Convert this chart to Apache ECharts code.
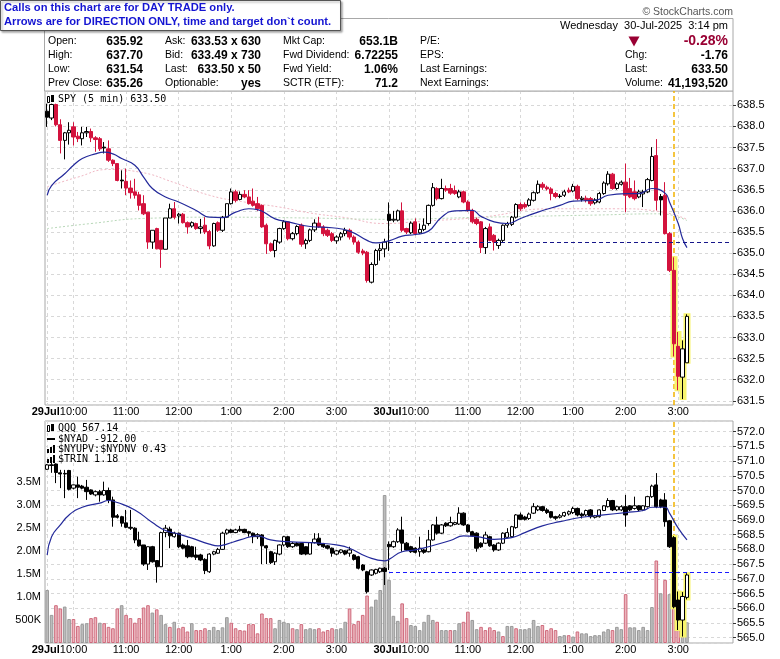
<!DOCTYPE html>
<html>
<head>
<meta charset="utf-8">
<title>SPY 5 min / QQQ</title>
<script src="https://cdn.jsdelivr.net/npm/echarts@6.0.0/dist/echarts.min.js"></script>
<style>
  html, body { margin: 0; padding: 0; background: #fff; }
  #chart { width: 780px; height: 659px; }
</style>
</head>
<body>
<div id="chart"></div>
<script>
// two sessions of 5-minute bars, 9:30 .. 3:55 (78 slots each) + one spare slot
var days = ['29Jul', '30Jul'];
var slotsPerDay = 78;

// SPY bars: [open, high, low, close]
var spyBars = [
  [638.36,638.54,637.99,638.22],[638.20,638.54,638.15,638.52],[638.52,638.54,638.00,638.04],[638.04,638.17,637.36,637.67],
  [637.67,637.87,637.22,637.85],[637.85,638.10,637.57,637.91],[637.99,638.10,637.55,637.75],[637.77,637.87,637.63,637.71],
  [637.71,637.99,637.55,637.85],[637.85,637.99,637.75,637.88],[637.88,637.95,637.63,637.73],[637.73,637.77,637.40,637.69],
  [637.71,637.75,637.42,637.47],[637.51,637.63,637.36,637.49],[637.47,637.67,637.16,637.20],[637.20,637.22,637.06,637.12],
  [637.12,637.12,636.70,636.72],[636.73,636.96,636.53,636.71],[636.70,637.00,636.37,636.54],[636.54,636.72,636.29,636.43],
  [636.45,636.76,636.29,636.37],[636.38,636.45,636.01,636.13],[636.17,636.37,635.90,635.93],[635.97,635.97,635.10,635.26],
  [635.26,635.54,635.10,635.54],[635.58,635.60,635.09,635.10],[635.30,635.30,634.65,635.09],[635.09,635.83,635.09,635.83],
  [635.83,636.17,635.83,636.05],[636.05,636.21,635.80,635.85],[635.88,635.95,635.70,635.92],[635.92,635.95,635.70,635.72],
  [635.72,635.75,635.46,635.62],[635.64,635.75,635.60,635.72],[635.70,635.72,635.55,635.58],[635.58,635.81,635.46,635.62],
  [635.66,635.85,635.45,635.50],[635.51,635.55,635.09,635.17],[635.17,635.72,635.15,635.70],[635.72,635.75,635.50,635.54],
  [635.54,635.88,635.50,635.85],[635.85,636.17,635.83,636.17],[636.17,636.53,636.15,636.45],[636.45,636.50,636.20,636.25],
  [636.27,636.46,636.25,636.39],[636.39,636.49,636.30,636.33],[636.33,636.49,636.15,636.17],[636.23,636.53,636.10,636.13],
  [636.17,636.33,636.00,636.05],[636.13,636.15,635.60,635.62],[635.66,635.70,634.98,635.22],[635.22,635.25,635.03,635.06],
  [635.06,635.32,634.90,635.30],[635.26,635.60,635.22,635.58],[635.58,635.78,635.55,635.74],[635.74,635.76,635.30,635.34],
  [635.34,635.50,635.30,635.46],[635.46,635.66,635.42,635.63],[635.66,635.70,635.15,635.21],[635.22,635.34,635.10,635.30],
  [635.30,635.58,635.26,635.55],[635.55,635.80,635.50,635.71],[635.71,635.86,635.60,635.62],[635.62,635.66,635.40,635.46],
  [635.54,635.58,635.38,635.42],[635.46,635.50,635.26,635.30],[635.29,635.42,635.22,635.38],[635.38,635.50,635.30,635.46],
  [635.46,635.60,635.40,635.54],[635.54,635.58,635.32,635.38],[635.38,635.42,635.20,635.26],[635.26,635.30,634.98,635.02],
  [635.05,635.10,634.95,635.00],[635.02,635.05,634.30,634.35],[634.31,634.78,634.28,634.73],[634.73,635.10,634.70,635.06],
  [635.06,635.22,634.82,635.10],[635.10,635.34,634.90,635.26],
  [635.92,636.20,635.05,635.77],[635.78,636.00,635.73,635.80],[635.78,636.03,635.75,636.00],[636.00,636.20,635.50,635.54],
  [635.58,635.60,635.45,635.50],[635.48,635.75,635.45,635.71],[635.74,635.82,635.42,635.46],[635.48,635.70,635.45,635.56],
  [635.56,635.82,635.52,635.66],[635.70,636.15,635.65,636.13],[636.13,636.66,636.10,636.55],[636.53,636.56,636.25,636.29],
  [636.29,636.76,636.27,636.53],[636.53,636.60,636.45,636.49],[636.53,636.64,636.38,636.42],[636.48,636.60,636.38,636.41],
  [636.33,636.50,636.30,636.45],[636.45,636.48,636.18,636.21],[636.21,636.25,635.98,636.01],[636.01,636.05,635.70,635.74],
  [635.80,635.84,635.66,635.70],[635.74,635.76,635.00,635.13],[635.13,635.62,634.98,635.58],[635.62,635.70,635.28,635.30],
  [635.42,635.45,635.06,635.26],[635.18,635.34,635.10,635.30],[635.30,635.68,635.26,635.66],[635.66,635.74,635.60,635.70],
  [635.68,635.88,635.64,635.85],[635.85,636.18,635.82,636.15],[636.15,636.20,636.00,636.05],[636.15,636.20,636.05,636.09],
  [636.13,636.30,636.10,636.26],[636.25,636.46,636.22,636.43],[636.43,636.72,636.40,636.63],[636.63,636.68,636.50,636.56],
  [636.56,636.60,636.48,636.52],[636.52,636.56,636.25,636.41],[636.41,636.45,636.30,636.34],[636.35,636.40,636.30,636.34],
  [636.37,636.50,636.33,636.45],[636.49,636.55,636.42,636.45],[636.47,636.64,636.44,636.58],[636.58,636.62,636.25,636.29],
  [636.27,636.35,636.22,636.30],[636.30,636.36,636.20,636.25],[636.29,636.33,636.12,636.17],[636.19,636.30,636.15,636.26],
  [636.21,636.45,636.18,636.41],[636.41,636.70,636.38,636.66],[636.64,636.94,636.60,636.87],[636.87,636.90,636.50,636.53],
  [636.53,636.68,636.50,636.64],[636.63,636.72,636.60,636.68],[636.68,637.12,635.97,636.37],[636.53,636.78,636.30,636.33],
  [636.45,636.72,636.25,636.29],[636.33,636.50,636.30,636.45],[636.40,636.50,636.09,636.45],[636.45,636.78,636.42,636.74],
  [636.72,637.51,636.70,637.29],[637.31,637.70,636.01,636.25],[636.34,636.40,635.89,636.26],[636.37,636.68,635.44,635.46],
  [635.46,635.50,634.55,634.59],[634.59,634.90,632.55,632.85],[632.79,633.13,631.75,632.08],[632.06,632.93,631.54,632.73],
  [632.40,633.55,632.40,633.50]
];
// SPY bars drawn filled black (down bar that closed above the prior close)
var spyBlackBars = [0, 13, 17, 78, 117, 140];

// QQQ bars: [open, high, low, close]
var qqqBars = [
  [570.72,570.90,570.70,570.87],[570.87,571.00,570.60,570.85],[570.90,570.92,570.25,570.61],[570.60,570.70,570.08,570.56],
  [570.58,570.70,569.74,570.56],[570.68,570.70,570.00,570.04],[570.08,570.20,570.04,570.19],[570.19,570.47,569.74,570.11],
  [570.15,570.19,570.04,570.08],[570.11,570.36,569.68,569.96],[570.02,570.04,569.85,569.88],[569.85,570.00,569.80,569.96],
  [569.96,570.02,569.62,569.85],[569.85,570.30,569.82,570.00],[570.00,570.10,569.57,569.68],[569.68,569.79,568.77,569.09],
  [569.14,569.20,569.05,569.09],[569.11,569.14,568.77,568.89],[568.90,569.34,568.72,568.75],[568.75,569.34,568.66,568.72],
  [568.72,568.75,568.21,568.32],[568.32,568.60,568.09,568.12],[568.15,568.15,567.44,567.50],[567.50,568.10,567.30,568.09],
  [568.09,568.12,567.55,567.58],[567.62,567.62,566.87,567.41],[567.41,568.60,567.40,568.57],[568.57,568.83,568.41,568.72],
  [568.69,568.77,568.04,568.46],[568.43,568.60,568.40,568.55],[568.55,568.57,568.05,568.09],[568.15,568.20,568.00,568.04],
  [568.12,568.32,567.70,567.75],[568.09,568.12,567.73,567.75],[567.81,568.09,567.64,567.73],[567.81,567.85,567.60,567.64],
  [567.66,567.70,567.16,567.28],[567.24,567.87,567.20,567.84],[567.84,567.95,567.80,567.92],[567.87,568.05,567.85,568.00],
  [568.00,568.60,567.98,568.55],[568.55,568.70,568.50,568.66],[568.66,568.70,568.55,568.57],[568.57,568.70,568.55,568.66],
  [568.68,568.80,568.60,568.63],[568.68,568.70,568.55,568.57],[568.60,568.63,568.43,568.55],[568.55,568.57,568.21,568.43],
  [568.43,568.55,568.35,568.50],[568.49,568.52,567.50,568.12],[568.12,568.15,567.50,568.05],[567.92,567.95,567.50,567.55],
  [567.58,567.90,567.47,567.87],[567.84,568.17,567.80,568.15],[568.15,568.46,568.10,568.43],[568.43,568.46,568.05,568.09],
  [568.09,568.25,568.05,568.20],[568.20,568.25,568.10,568.12],[568.20,568.22,567.81,567.84],[568.09,568.10,567.80,567.84],
  [567.84,568.25,567.82,568.23],[568.23,568.55,568.20,568.35],[568.38,568.55,568.12,568.15],[568.20,568.22,568.05,568.09],
  [568.12,568.15,568.00,568.04],[568.04,568.06,567.75,567.87],[567.84,567.98,567.80,567.95],[567.90,568.00,567.86,567.98],
  [567.95,567.98,567.80,567.84],[567.87,568.09,567.75,567.98],[567.81,567.84,567.62,567.66],[567.75,567.78,567.32,567.36],
  [567.47,567.50,567.26,567.30],[567.24,567.27,566.50,566.56],[567.13,567.32,567.10,567.30],[567.19,567.34,567.15,567.32],
  [567.24,567.38,567.20,567.36],[567.36,567.40,566.79,567.25],
  [568.17,568.27,567.30,568.09],[568.09,568.30,568.05,568.26],[568.26,568.72,568.22,568.66],[568.66,569.11,567.92,568.21],
  [568.21,568.25,567.95,567.98],[568.09,568.12,567.88,567.92],[568.04,568.07,567.86,567.90],[567.92,568.43,567.75,568.04],
  [567.98,568.02,567.85,567.90],[567.92,568.66,567.90,568.32],[568.32,568.86,568.30,568.83],[568.83,569.11,568.50,568.55],
  [568.55,568.86,568.52,568.83],[568.89,568.92,568.76,568.80],[568.80,569.11,568.77,568.91],[568.85,568.94,568.82,568.91],
  [568.86,569.43,568.83,569.23],[569.23,569.26,568.80,568.83],[568.83,568.86,568.57,568.60],[568.60,568.63,568.43,568.46],
  [568.55,568.58,567.92,568.04],[568.21,568.24,568.05,568.09],[568.21,568.60,568.18,568.49],[568.43,568.46,568.09,568.12],
  [568.15,568.18,567.92,567.98],[567.98,568.24,567.95,568.21],[568.21,568.58,568.18,568.55],[568.41,568.72,568.38,568.57],
  [568.43,568.80,568.40,568.77],[568.74,569.20,568.70,569.17],[569.17,569.25,569.00,569.02],[569.10,569.14,568.98,569.02],
  [569.05,569.25,569.00,569.20],[569.23,569.57,569.20,569.45],[569.34,569.50,569.30,569.45],[569.45,569.48,569.28,569.32],
  [569.34,569.40,569.20,569.25],[569.28,569.30,569.05,569.09],[569.11,569.14,569.00,569.06],[569.09,569.20,569.05,569.14],
  [569.14,569.28,569.10,569.25],[569.20,569.32,569.15,569.28],[569.25,569.45,569.20,569.39],[569.39,569.42,569.12,569.17],
  [569.20,569.25,569.05,569.14],[569.17,569.35,569.12,569.32],[569.34,569.37,569.05,569.11],[569.09,569.17,569.05,569.14],
  [569.11,569.36,569.08,569.34],[569.32,569.50,569.30,569.48],[569.45,569.74,569.42,569.66],[569.66,569.68,569.30,569.34],
  [569.34,569.48,569.30,569.45],[569.34,569.50,569.30,569.45],[569.45,569.85,568.77,569.17],[569.48,569.50,569.30,569.34],
  [569.39,569.79,569.35,569.48],[569.48,569.50,569.30,569.34],[569.34,569.50,569.30,569.48],[569.45,569.82,569.42,569.79],
  [569.79,570.20,569.75,570.15],[570.19,570.59,569.40,569.45],[569.68,569.72,569.40,569.45],[569.68,569.91,568.77,568.94],
  [568.97,569.00,568.05,568.09],[568.40,568.45,566.00,566.05],[566.28,566.57,565.26,565.60],[565.60,566.55,565.04,566.40],
  [566.37,567.19,566.30,567.13]
];

// volume (millions) and its colour: 1 = down bar (pink), 0 = up bar (grey)
var volume = [
  1.15,0.61,0.82,0.75,0.79,0.52,0.52,0.37,0.41,0.43,0.54,0.56,0.44,0.43,0.35,0.32,0.75,0.82,0.61,0.54,
  0.44,0.54,0.77,0.82,0.66,0.73,0.61,0.41,0.35,0.46,0.32,0.35,0.25,0.43,0.28,0.28,0.32,0.28,0.35,0.28,
  0.34,0.56,0.44,0.32,0.28,0.27,0.41,
  0.41,0.21,0.64,0.54,0.54,0.32,0.50,0.46,0.43,0.32,0.30,0.41,0.30,0.32,0.30,0.32,0.25,0.28,0.32,0.30,
  0.32,0.46,0.75,0.41,0.48,0.61,1.03,0.79,0.94,1.15,3.21,
  1.37,0.59,0.48,0.86,0.54,0.39,0.37,0.28,0.46,0.61,0.50,0.46,0.28,0.28,0.28,0.28,0.43,0.46,0.68,0.50,
  0.30,0.35,0.28,0.34,0.28,0.25,0.15,0.37,
  0.37,0.32,0.30,0.30,0.32,0.50,0.37,0.39,0.28,0.32,0.28,0.15,0.17,0.17,0.14,0.25,0.21,0.21,0.15,0.17,
  0.17,0.25,0.30,0.28,0.35,0.30,1.06,0.34,0.34,0.28,0.35,0.28,0.78,1.79,1.08,1.37,1.06,1.25,0.90,0.70,0.45
];
var volumeDown = [
  0,0,1,1,0,0,1,1,0,0,1,1,0,1,1,1,1,0,1,1,1,1,1,1,0,1,0,0,1,0,1,1,1,0,1,1,1,0,0,0,0,0,1,1,1,1,1,
  1,1,1,1,1,0,0,0,0,1,0,1,0,0,0,1,1,1,1,0,0,0,1,1,1,1,1,0,0,0,0,
  0,0,0,1,1,0,0,0,0,0,0,1,0,0,1,0,0,1,1,0,0,1,1,1,1,0,1,0,
  0,1,0,0,0,0,0,1,1,1,1,0,0,1,0,1,0,0,0,0,0,0,0,1,0,0,1,0,0,0,0,0,0,1,0,1,0,1,1,0,0
];

// moving averages: [bar index, value]
var spyMaBlue = [[0,636.37],[1,636.60],[4,636.88],[6,637.08],[8,637.24],[11,637.35],[13,637.39],[15,637.35],[17,637.24],
  [20,637.08],[22,636.80],[24,636.53],[27,636.33],[30,636.21],[34,636.01],[37,635.85],[40,635.84],[43,635.97],[46,636.05],
  [48,636.03],[52,635.81],[55,635.74],[60,635.63],[65,635.60],[69,635.52],[73,635.30],[75,635.24],[78,635.29],[81,635.40],
  [84,635.44],[87,635.52],[90,635.85],[93,636.00],[97,636.01],[99,635.87],[102,635.74],[105,635.70],[108,635.82],[112,635.97],
  [117,636.13],[120,636.23],[125,636.25],[128,636.37],[132,636.41],[135,636.41],[138,636.53],[141,636.42],[142,636.21],
  [144,635.70],[145,635.34],[146,635.13]];
var spyMaPink = [[0,636.57],[7,636.80],[14,636.98],[21,636.92],[29,636.67],[37,636.37],[45,636.21],[53,636.09],[60,635.95],
  [68,635.84],[77,635.70],[85,635.75],[99,635.85],[115,636.05],[130,636.05],[140,635.98],[146,635.80]];
var spyMaGreen = [[0,635.58],[10,635.70],[22,635.82],[39,635.85],[60,635.83],[77,635.80],[100,635.85],[125,635.90],
  [140,635.93],[146,635.77]];
var qqqMaBlue = [[0,567.81],[1,568.43],[3,568.83],[5,569.17],[8,569.43],[12,569.57],[14,569.66],[16,569.59],[20,569.34],
  [24,568.91],[27,568.64],[30,568.52],[33,568.38],[37,568.18],[39,568.12],[41,568.18],[44,568.32],[48,568.46],[51,568.32],
  [55,568.26],[62,568.21],[66,568.15],[69,568.04],[73,567.75],[77,567.61],[78,567.66],[81,567.92],[84,567.98],[87,568.09],
  [92,568.30],[95,568.46],[98,568.43],[102,568.34],[106,568.40],[109,568.57],[113,568.80],[117,568.94],[122,569.09],
  [127,569.17],[132,569.25],[136,569.32],[138,569.43],[141,569.43],[142,569.23],[144,568.72],[146,568.32]];

var spyPrevClose = 635.26;
var qqqPrevClose = 567.23;
var signalBar = 143;                 // yellow dashed marker
var highlightBars = [143, 144, 145, 146];
var firstBarDay2 = 78;
var lastSlot = 156;

// header texts
var headerRows = [
  ['Open:', '635.92', 'Ask:', '633.53 x 630', 'Mkt Cap:', '653.1B', 'P/E:'],
  ['High:', '637.70', 'Bid:', '633.49 x 730', 'Fwd Dividend:', '6.72255', 'EPS:'],
  ['Low:', '631.54', 'Last:', '633.50 x 50', 'Fwd Yield:', '1.06%', 'Last Earnings:'],
  ['Prev Close:', '635.26', 'Optionable:', 'yes', 'SCTR (ETF):', '71.2', 'Next Earnings:']
];
var quoteRows = [['Chg:', '-1.76'], ['Last:', '633.50'], ['Volume:', '41,193,520']];
var pctChange = '-0.28%';
var dateText = 'Wednesday  30-Jul-2025  3:14 pm';
var callout = ['Calls on this chart are for DAY TRADE only.',
               'Arrows are for DIRECTION ONLY, time and target don`t count.'];
var lowerLegend = ['QQQ 567.14', '$NYAD -912.00', '$NYUPV:$NYDNV 0.43', '$TRIN 1.18'];

// ---------------------------------------------------------------
var RED = '#d3123d';
var GLOW = '#f7f46e';
var SANS = '"Liberation Sans", Arial, sans-serif';
var MONO = '"DejaVu Sans Mono", monospace';
var CANDLE_W = 3.8;

function slot(i) {
  var k = i % slotsPerDay;
  return { day: Math.floor(i / slotsPerDay), k: k, min: 570 + 5 * k };
}
var categories = [];
for (var i = 0; i <= lastSlot; i++) {
  var s = slot(i);
  categories.push(s.day + '|' + Math.floor(s.min / 60) + ':' + ('0' + (s.min % 60)).slice(-2));
}
function isGridLine(i) {
  if (i >= lastSlot) return false;
  var s = slot(i);
  return s.k === 0 || s.min % 60 === 0;
}
function isHour(i) {
  return i < lastSlot && slot(i).min % 60 === 0;
}
// "29Jul10:00": the day name sits left of the first hour; the spacer keeps "10:00" centred on its bar
function labelFor(value, index) {
  var s = slot(index);
  var h = Math.floor(s.min / 60);
  var t = (h > 12 ? h - 12 : h) + ':00';
  if (s.min === 600) return '{b|' + days[s.day] + '}' + t + '{sp|\u00a0}';
  return t;
}

function toCandle(rows, black) {
  return rows.map(function (r, i) {
    var item = { value: [r[0], r[3], r[2], r[1]] };
    if (black && black.indexOf(i) >= 0) {
      item.itemStyle = { color: '#000', color0: '#000', borderColor: '#000', borderColor0: '#000' };
    }
    return item;
  });
}
// glow box behind the last bars: spans the bar's high..low
function highlightData(rows) {
  return rows.map(function (r, i) {
    return highlightBars.indexOf(i) >= 0 ? [r[1], r[2], r[2], r[1]] : ['-', '-', '-', '-'];
  });
}

function xAxisFor(grid) {
  return {
    type: 'category', gridIndex: grid, data: categories, boundaryGap: true,
    axisLine: { show: false }, axisTick: { show: false },
    axisLabel: {
      interval: function (idx) { return isHour(idx); },
      hideOverlap: false,
      formatter: labelFor, fontSize: 11, fontFamily: SANS, color: '#000', margin: 1,
      rich: {
        b: { fontWeight: 'bold', fontSize: 11, fontFamily: SANS, color: '#000' },
        sp: { width: 28, fontSize: 11 }
      }
    },
    splitLine: {
      show: true, alignWithLabel: true,
      interval: function (idx) { return isGridLine(idx); },
      lineStyle: { color: '#d8d8d8', type: [3, 3], width: 1 }
    }
  };
}
function priceAxis(grid, min, max) {
  return {
    type: 'value', gridIndex: grid, position: 'right', min: min, max: max, scale: true,
    minInterval: 0.5, maxInterval: 0.5,
    axisLine: { show: false },
    axisTick: { show: true, length: 3, lineStyle: { color: '#333' } },
    axisLabel: { fontSize: 11, fontFamily: SANS, color: '#000', margin: 4,
      showMinLabel: false, showMaxLabel: false,
      formatter: function (v) { return v.toFixed(1); } },
    splitLine: { show: true, lineStyle: { color: '#d8d8d8', type: [3, 3], width: 1 } }
  };
}

function txt(x, y, text, font, fill, align) {
  return { type: 'text', x: x, y: y, silent: true, z: 10,
    style: { text: text, font: font, fill: fill || '#000', align: align || 'left', verticalAlign: 'middle' } };
}

var LABEL_FONT = '10.5px ' + SANS;
var VALUE_FONT = 'bold 12px ' + SANS;
var graphics = [];
// header frame
graphics.push({ type: 'rect', silent: true, z: 1,
  shape: { x: 44.5, y: 18.5, width: 688.5, height: 72.5 },
  style: { fill: '#fff', stroke: '#a8a8a8', lineWidth: 1 } });
graphics.push(txt(733, 12, '\u00a9 StockCharts.com', '10.5px ' + SANS, '#555', 'right'));
graphics.push(txt(728, 26, dateText, '11px ' + SANS, '#000', 'right'));
var rowY = [41.5, 55.5, 69.5, 83.5];
var colLabelX = [48, 165, 283, 420];
var colValueX = [143, 261, 398];
headerRows.forEach(function (r, j) {
  var y = rowY[j];
  graphics.push(txt(colLabelX[0], y, r[0], LABEL_FONT));
  graphics.push(txt(colValueX[0], y, r[1], VALUE_FONT, '#000', 'right'));
  graphics.push(txt(colLabelX[1], y, r[2], LABEL_FONT));
  graphics.push(txt(colValueX[1], y, r[3], VALUE_FONT, '#000', 'right'));
  graphics.push(txt(colLabelX[2], y, r[4], LABEL_FONT));
  graphics.push(txt(colValueX[2], y, r[5], VALUE_FONT, '#000', 'right'));
  graphics.push(txt(colLabelX[3], y, r[6], LABEL_FONT));
});
graphics.push({ type: 'polygon', silent: true, z: 10,
  shape: { points: [[628.5, 36.5], [639.5, 36.5], [634, 46.5]] }, style: { fill: '#990033' } });
graphics.push(txt(728, 41.5, pctChange, 'bold 14px ' + SANS, '#990033', 'right'));
quoteRows.forEach(function (r, j) {
  graphics.push(txt(625, rowY[j + 1], r[0], LABEL_FONT));
  graphics.push(txt(728, rowY[j + 1], r[1], VALUE_FONT, '#000', 'right'));
});
// callout box
graphics.push({ type: 'rect', silent: true, z: 20,
  shape: { x: 0.5, y: 0.5, width: 340, height: 30 },
  style: { fill: '#fff', stroke: '#555', lineWidth: 1,
    shadowBlur: 2, shadowOffsetX: 1.5, shadowOffsetY: 1.5, shadowColor: 'rgba(0,0,0,0.35)' } });
graphics.push(Object.assign(txt(4, 8, callout[0], 'bold 11.2px ' + SANS, '#1414d2'), { z: 21 }));
graphics.push(Object.assign(txt(4, 22, callout[1], 'bold 11.2px ' + SANS, '#1414d2'), { z: 21 }));
// panel legends
function candleIcon(x, y) {
  graphics.push({ type: 'rect', silent: true, z: 10, shape: { x: x + 0.5, y: y + 0.5, width: 2, height: 6 },
    style: { fill: '#fff', stroke: '#000', lineWidth: 1 } });
  graphics.push({ type: 'rect', silent: true, z: 10, shape: { x: x + 4, y: y - 1, width: 3, height: 7 },
    style: { fill: '#000' } });
}
function barIcon(x, y) {
  [[0, 4], [3, 2], [6, 0]].forEach(function (b) {
    graphics.push({ type: 'rect', silent: true, z: 10, shape: { x: x + b[0], y: y + b[1], width: 2, height: 8 - b[1] },
      style: { fill: '#000' } });
  });
}
candleIcon(47, 96);
graphics.push(txt(58, 99.5, 'SPY (5 min) 633.50', '10px ' + MONO));
candleIcon(47, 425);
graphics.push(txt(58, 428.5, lowerLegend[0], '10px ' + MONO));
graphics.push({ type: 'rect', silent: true, z: 10, shape: { x: 47, y: 438, width: 8, height: 2 }, style: { fill: '#000' } });
graphics.push(txt(58, 439, lowerLegend[1], '10px ' + MONO));
barIcon(47, 445);
graphics.push(txt(58, 449, lowerLegend[2], '10px ' + MONO));
barIcon(47, 455);
graphics.push(txt(58, 459, lowerLegend[3], '10px ' + MONO));

// dashed prior-close line (above the bars) and the yellow marker (behind the bars)
function closeLine(prevClose, color) {
  return {
    silent: true, symbol: ['none', 'none'], animation: false, label: { show: false },
    lineStyle: { color: color, type: [4, 3], width: 1 },
    data: [[{ coord: [firstBarDay2, prevClose] }, { coord: [lastSlot, prevClose] }]]
  };
}
var markerLine = {
  silent: true, symbol: ['none', 'none'], animation: false, label: { show: false }, z: 1,
  lineStyle: { color: '#f2b300', type: [5, 3], width: 1.5 },
  data: [{ xAxis: signalBar }]
};

var volumeData = volume.map(function (v, i) {
  return { value: v, itemStyle: volumeDown[i]
    ? { color: '#ebb5bd', borderColor: '#cf6a7c', borderWidth: 1 }
    : { color: '#bcbcbc', borderColor: '#9a9a9a', borderWidth: 1 } };
});

var glowStyle = { color: GLOW, color0: GLOW, borderColor: GLOW, borderColor0: GLOW, borderWidth: 2 };

var chart = echarts.init(document.getElementById('chart'), null, { renderer: 'canvas' });
chart.setOption({
  animation: false,
  backgroundColor: '#fff',
  graphic: graphics,
  grid: [
    { left: 45, right: 47, top: 91, height: 314, show: true, borderColor: '#a8a8a8', backgroundColor: '#fff',
      containLabel: false, outerBoundsMode: 'none' },
    { left: 45, right: 47, top: 421, height: 222, show: true, borderColor: '#a8a8a8', backgroundColor: '#fff',
      containLabel: false, outerBoundsMode: 'none' }
  ],
  xAxis: [xAxisFor(0), xAxisFor(1)],
  yAxis: [
    priceAxis(0, 631.40, 638.84),
    priceAxis(1, 564.82, 572.36),
    { type: 'value', gridIndex: 1, position: 'left', min: 0, max: 4.816,
      minInterval: 0.5, maxInterval: 0.5,
      axisLine: { show: false }, axisTick: { show: false }, splitLine: { show: false },
      axisLabel: { fontSize: 11, fontFamily: SANS, color: '#000', margin: 4, showMaxLabel: false,
        formatter: function (v) {
          if (v <= 0 || v > 3.5) return '';
          return v < 1 ? Math.round(v * 1000) + 'K' : v.toFixed(1) + 'M';
        } } }
  ],
  series: [
    { name: 'spy-glow', type: 'candlestick', xAxisIndex: 0, yAxisIndex: 0, barWidth: 5.5, z: 2,
      data: highlightData(spyBars), itemStyle: glowStyle, markLine: markerLine },
    { name: 'spy-ma-pink', type: 'line', xAxisIndex: 0, yAxisIndex: 0, data: spyMaPink, smooth: true, symbol: 'none',
      z: 1, lineStyle: { color: '#f0b8c4', width: 1, type: [2, 2] } },
    { name: 'spy-ma-green', type: 'line', xAxisIndex: 0, yAxisIndex: 0, data: spyMaGreen, smooth: true, symbol: 'none',
      z: 1, lineStyle: { color: '#b9d8b9', width: 1, type: [2, 2] } },
    { name: 'SPY', type: 'candlestick', xAxisIndex: 0, yAxisIndex: 0, barWidth: CANDLE_W, z: 3,
      data: toCandle(spyBars, spyBlackBars),
      itemStyle: { color: '#fff', color0: RED, borderColor: '#000', borderColor0: RED, borderWidth: 1 },
      markLine: closeLine(spyPrevClose, '#16168a') },
    { name: 'spy-ma', type: 'line', xAxisIndex: 0, yAxisIndex: 0, data: spyMaBlue, smooth: true, symbol: 'none',
      z: 4, lineStyle: { color: '#23299a', width: 1.2 } },

    { name: 'Volume', type: 'bar', xAxisIndex: 1, yAxisIndex: 2, barWidth: 3.6, z: 1, data: volumeData },
    { name: 'qqq-glow', type: 'candlestick', xAxisIndex: 1, yAxisIndex: 1, barWidth: 5.5, z: 2,
      data: highlightData(qqqBars), itemStyle: glowStyle, markLine: markerLine },
    { name: 'QQQ', type: 'candlestick', xAxisIndex: 1, yAxisIndex: 1, barWidth: CANDLE_W, z: 3,
      data: toCandle(qqqBars),
      itemStyle: { color: '#fff', color0: '#000', borderColor: '#000', borderColor0: '#000', borderWidth: 1 },
      markLine: closeLine(qqqPrevClose, '#1a1aff') },
    { name: 'qqq-ma', type: 'line', xAxisIndex: 1, yAxisIndex: 1, data: qqqMaBlue, smooth: true, symbol: 'none',
      z: 4, lineStyle: { color: '#23299a', width: 1.2 } }
  ]
});
</script>
</body>
</html>
